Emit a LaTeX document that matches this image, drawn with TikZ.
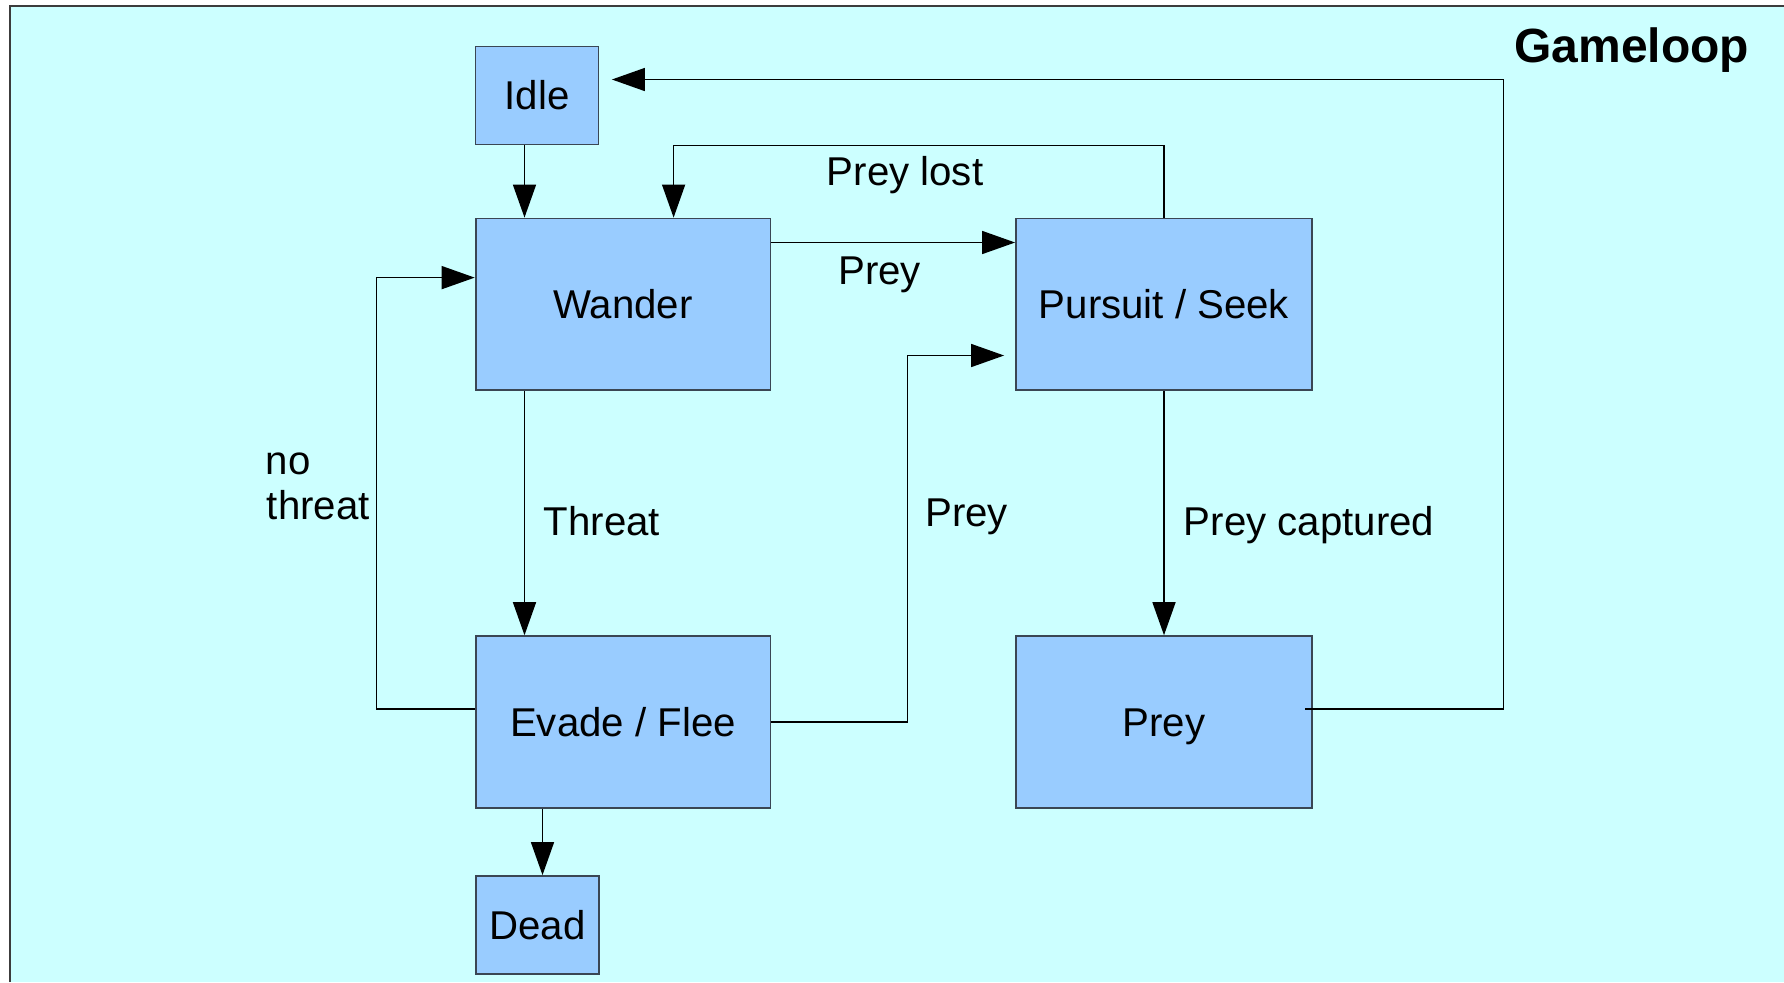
\documentclass[tikz,border=0pt]{standalone}
\usepackage{fontspec}
\setmainfont{Liberation Sans}
\usetikzlibrary{arrows.meta}
\definecolor{panel}{HTML}{CCFFFF}
\definecolor{statefill}{HTML}{99CCFF}
\definecolor{stateline}{HTML}{3A4654}
\definecolor{framegray}{HTML}{3C3C3C}
\tikzset{
  statebox/.style={draw=stateline, line width=0.9pt, fill=statefill, inner sep=0pt,
    font=\fontsize{20.1pt}{23pt}\selectfont, text height=14.4pt, text depth=0pt},
  arr/.style={draw=black, line width=0.75pt, -{Triangle[length=16.5pt,width=11.5pt]}},
  lbl/.style={inner sep=0pt, anchor=base west, font=\fontsize{20.1pt}{23pt}\selectfont},
  title/.style={inner sep=0pt, anchor=base west, font=\fontsize{24pt}{28pt}\selectfont\bfseries}
}
\begin{document}
\begin{tikzpicture}[x=0.5pt, y=-0.5pt]
  \useasboundingbox (0,0) rectangle (1784,982);
  % panel
  \fill[white] (0,0) rectangle (1784,982);
  \fill[panel] (10,6) rectangle (1784,982);
  \draw[framegray, line width=1pt] (10,982) -- (10,6) -- (1784,6);

  % states
  \node[statebox, minimum width=61.5pt, minimum height=49pt] (idle) at (537,95.5) {Idle};
  \node[statebox, minimum width=147.4pt, minimum height=85.9pt] (wander) at (623,304.4) {Wander};
  \node[statebox, minimum width=148pt, minimum height=85.9pt] (pursuit) at (1164,304.4) {Pursuit / Seek};
  \node[statebox, minimum width=147.4pt, minimum height=85.9pt] (evade) at (623,722) {Evade / Flee};
  \node[statebox, minimum width=148pt, minimum height=85.9pt] (prey) at (1164,722) {Prey};
  \node[statebox, minimum width=61.5pt, minimum height=49pt] (dead) at (537.5,925) {Dead};

  % routing points
  \coordinate (colA) at (524.5,0);
  \coordinate (colD) at (542.5,0);
  \coordinate (rowP) at (0,242.5);
  \coordinate (lostR) at (1164,145.5);
  \coordinate (lostL) at (673.6,145.5);
  \coordinate (ntB) at (376.6,708.8);
  \coordinate (ntT) at (376.6,277.6);
  \coordinate (epB) at (907.5,722);
  \coordinate (epT) at (907.5,355.5);
  \coordinate (pyS) at (1305,708.8);
  \coordinate (pyB) at (1503.3,708.8);
  \coordinate (pyT) at (1503.3,79.5);

  % transitions
  \draw[arr] (idle.south -| colA) -- (wander.north -| colA);
  \draw[arr] (wander.south -| colA) -- (evade.north -| colA);
  \draw[arr] (evade.south -| colD) -- (dead.north -| colD);
  \draw[arr] (wander.east |- rowP) -- (pursuit.west |- rowP);
  \draw[arr] (pursuit.north) -- (lostR) -- (lostL) -- (wander.north -| lostL);
  \draw[arr] (evade.west |- ntB) -- (ntB) -- (ntT) -- (wander.west |- ntT);
  \draw[arr, shorten >=5.5pt] (evade.east) -- (epB) -- (epT) -- (pursuit.west |- epT);
  \draw[arr] (pursuit.south) -- (prey.north);
  \draw[arr, shorten >=6.25pt] (pyS) -- (pyB) -- (pyT) -- (idle.east |- pyT);

  % labels
  \node[lbl] (lPrey1) at (838,284) {Prey};
  \node[lbl] (lLost) at (826.5,185.5) {Prey lost};
  \node[lbl] (lThreat) at (543.5,535.5) {Threat};
  \node[lbl] (lNo) at (265.5,474.5) {no};
  \node[lbl] (lNoThreat) at (266.5,519) {threat};
  \node[lbl] (lPrey2) at (925,526) {Prey};
  \node[lbl] (lCapt) at (1183.5,535.5) {Prey captured};
  \node[title] (gameloop) at (1514,62.5) {Gameloop};
\end{tikzpicture}
\end{document}
